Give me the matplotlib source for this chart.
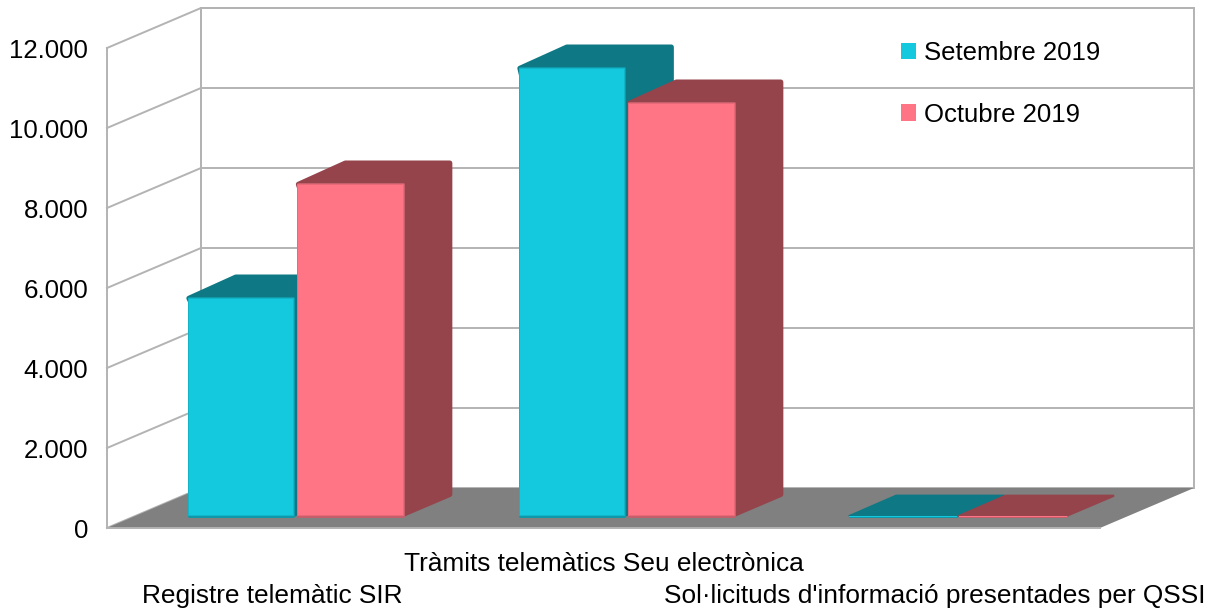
import matplotlib
matplotlib.use("Agg")
import matplotlib.pyplot as plt
from matplotlib.patches import Polygon, Patch
from matplotlib.transforms import ScaledTranslation

plt.rcParams["font.family"] = ["Liberation Sans", "DejaVu Sans"]

categories = ["Registre telemàtic SIR", "Tràmits telemàtics Seu electrònica",
              "Sol·licituds d'informació presentades per QSSI"]
series_names = ["Setembre 2019", "Octubre 2019"]
setembre = [5500, 11250, 40]
octubre = [8350, 10375, 40]
y_ticks = [0, 2000, 4000, 6000, 8000, 10000, 12000]

front_colors = ["#14c8de", "#ff7585"]
edge_colors = ["#0f98a9", "#c45f6b"]
mid_colors = ["#12b4c8", "#e86a78"]
dark_colors = ["#0e7884", "#95444c"]
GRID = "#b3b3b3"
FLOOR = "#808080"

W, H = 1219, 611
fig = plt.figure(figsize=(W / 100, H / 100), dpi=100)
ax = fig.add_axes([107 / W, (H - 528) / H, 993 / W, 480 / H])
ax.set_xlim(0, 3)
ax.set_ylim(0, 12000)

# Oblique projection: depth 0 is the front plane, depth 1 the back wall
DX = 94 / 331
DY = 1000
PX_X = 3 / 993
PX_Y = 12000 / 480


def proj(x, depth, v):
    return (x + depth * DX, v + depth * DY)


def poly(points, **kw):
    kw.setdefault("clip_on", False)
    ax.add_patch(Polygon(points, closed=True, **kw))


# Back wall, floor and the gridlines folding round the left side
poly([proj(0, 1, 0), proj(3, 1, 0), proj(3, 1, 12000), proj(0, 1, 12000)],
     facecolor="white", edgecolor=GRID, lw=1.4, zorder=1)
poly([proj(0, 0, 0), proj(3, 0, 0), proj(3, 1, 0), proj(0, 1, 0)],
     facecolor=FLOOR, edgecolor="none", zorder=2)
for v in y_ticks:
    xs, ys = zip(proj(0, 0, v), proj(0, 1, v), proj(3, 1, v))
    if v == 0:
        xs, ys = xs[:2], ys[:2]
    ax.plot(xs, ys, color=GRID, lw=1.4, clip_on=False, zorder=1.5)
ax.plot(*zip(proj(0, 1, 0), proj(0, 1, 12000)), color=GRID, lw=1.4, clip_on=False, zorder=1.5)

# Bars: two per category, spanning part of the floor depth
D0, D1 = 0.275, 0.775
BAR_W = 109.5 / 331
GAP = 53.5 / 331


def draw_bar(x0, value, idx, z):
    x1 = x0 + BAR_W
    tall = value > 200
    # Rounded outer silhouette: inset by the stroke radius, then stroked with round joins
    r = 2.5 if tall else 0.8
    rx, ry = r * PX_X, r * PX_Y
    lw = 2 * r * 0.72
    back = [proj(x1 - rx, D0, ry), proj(x1 - rx, D1, ry), proj(x1 - rx, D1, value),
            proj(x0 + rx, D1, value), proj(x0 + rx, D0, value - ry * 0.5)]
    poly(back, facecolor=dark_colors[idx], edgecolor=dark_colors[idx],
         lw=lw, joinstyle="round", zorder=z)

    front = [proj(x0 + rx, D0, ry * 0.5), proj(x1 - rx, D0, ry * 0.5),
             proj(x1 - rx, D0, value - ry * 0.5), proj(x0 + rx, D0, value - ry * 0.5)]
    poly(front, facecolor=edge_colors[idx], edgecolor=edge_colors[idx],
         lw=lw * 0.6, joinstyle="round", zorder=z + 0.1)
    # Soft bevel along the front face
    if tall:
        for step, col in ((1, mid_colors[idx]), (2, front_colors[idx])):
            ix, iy = (step + 0.5) * PX_X, (step + 0.3) * PX_Y
            inner = [proj(x0 + ix, D0, iy), proj(x1 - ix, D0, iy),
                     proj(x1 - ix, D0, value - iy), proj(x0 + ix, D0, value - iy)]
            poly(inner, facecolor=col, edgecolor="none", zorder=z + 0.1 + step * 0.01)
    else:
        poly(front, facecolor=front_colors[idx], edgecolor="none", zorder=z + 0.2)


for i in range(len(categories)):
    draw_bar(i + GAP, setembre[i], 0, 3 + i)
    draw_bar(i + GAP + BAR_W, octubre[i], 1, 3.5 + i)

# Axes, ticks and staggered category labels
for name in ("top", "right"):
    ax.spines[name].set_visible(False)
for name in ("left", "bottom"):
    ax.spines[name].set_color(GRID)
    ax.spines[name].set_linewidth(1.4)
    ax.spines[name].set_zorder(2.5)

ax.set_yticks(y_ticks)
ax.set_yticklabels([f"{v:,}".replace(",", ".") for v in y_ticks])
ax.tick_params(axis="y", length=0, pad=13.5, labelsize=18.6, labelcolor="black")
ax.set_xticks([0.5, 1.5, 2.5])
ax.set_xticklabels(categories)
ax.tick_params(axis="x", length=0, pad=17.5, labelsize=18.95, labelcolor="black")
# Long names would collide, so the outer two sit one row lower
drop = ScaledTranslation(0, -32 / 100, fig.dpi_scale_trans)
for lab in (ax.get_xticklabels()[0], ax.get_xticklabels()[2]):
    lab.set_transform(lab.get_transform() + drop)

handles = [Patch(facecolor=c, edgecolor="none") for c in front_colors]
ax.legend(handles, series_names, loc="upper left", bbox_to_anchor=(793.5 / 993, 1.014),
          frameon=False, fontsize=18.5, handlelength=0.6, handleheight=0.6,
          handletextpad=0.3, labelspacing=1.45, borderpad=0, borderaxespad=0)

fig.savefig("out.png", dpi=100, facecolor="white")
